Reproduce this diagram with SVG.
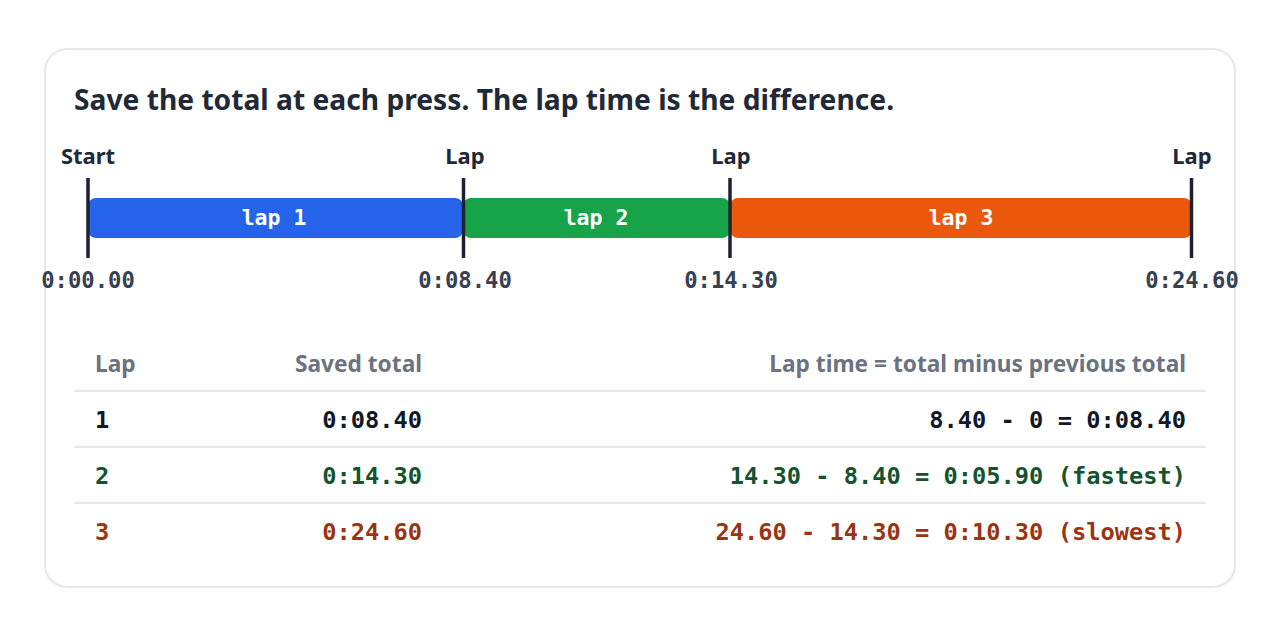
<svg xmlns="http://www.w3.org/2000/svg" width="1280" height="640" viewBox="0 0 1280 640">
<style>
.sans{font-family:"Noto Sans","Open Sans","Liberation Sans",sans-serif;font-weight:700}
.mono{font-family:"DejaVu Sans Mono","Liberation Mono",monospace;font-weight:700}
.title{font-size:28.2px;fill:#1f2937}
.tick-top{font-size:22px;fill:#1f2937;text-anchor:middle}
.tick-bot{font-size:22.2px;fill:#374151;text-anchor:middle}
.bar-label{font-size:21.5px;fill:#ffffff;text-anchor:middle}
.tick{stroke:#1e2130;stroke-width:3.5}
.hdr{font-size:22.7px;fill:#6b7280}
.cell{font-size:23.7px}
.rule{stroke:#e5e7eb;stroke-width:2}
.r1{fill:#111827}.r2{fill:#14532d}.r3{fill:#9a3412}
</style>
<rect x="0" y="0" width="1280" height="640" fill="#ffffff"/>
<rect id="card" x="45" y="49" width="1190" height="538" rx="22" fill="#ffffff" stroke="#e5e7eb" stroke-width="2"/>
<text id="title" class="sans title" x="74" y="110">Save the total at each press. The lap time is the difference.</text>

<g id="bar-lap1"><rect x="88" y="198" width="375" height="40" rx="8" fill="#2563eb"/><text class="mono bar-label" x="274" y="225">lap 1</text></g>
<g id="bar-lap2"><rect x="463" y="198" width="267" height="40" rx="8" fill="#16a34a"/><text class="mono bar-label" x="596" y="225">lap 2</text></g>
<g id="bar-lap3"><rect x="730" y="198" width="462" height="40" rx="8" fill="#ea580c"/><text class="mono bar-label" x="961" y="225">lap 3</text></g>

<g id="connectors">
<line class="tick" x1="88" y1="178" x2="88" y2="258"/>
<line class="tick" x1="463.5" y1="178" x2="463.5" y2="258"/>
<line class="tick" x1="730" y1="178" x2="730" y2="258"/>
<line class="tick" x1="1191.5" y1="178" x2="1191.5" y2="258"/>
</g>

<g id="tick-start"><text class="sans tick-top" x="88" y="164">Start</text><text class="mono tick-bot" x="88" y="288">0:00.00</text></g>
<g id="tick-lap1"><text class="sans tick-top" x="465" y="164">Lap</text><text class="mono tick-bot" x="465" y="288">0:08.40</text></g>
<g id="tick-lap2"><text class="sans tick-top" x="731" y="164">Lap</text><text class="mono tick-bot" x="731" y="288">0:14.30</text></g>
<g id="tick-lap3"><text class="sans tick-top" x="1192" y="164">Lap</text><text class="mono tick-bot" x="1192" y="288">0:24.60</text></g>

<g id="table">
<text class="sans hdr" x="95" y="372">Lap</text>
<text class="sans hdr" x="422" y="372" text-anchor="end">Saved total</text>
<text class="sans hdr" x="1186" y="372" text-anchor="end">Lap time = total minus previous total</text>
<line class="rule" x1="74" y1="391" x2="1206" y2="391"/>
<g id="row1"><text class="mono cell r1" x="95" y="428">1</text><text class="mono cell r1" x="422" y="428" text-anchor="end">0:08.40</text><text class="mono cell r1" x="1186" y="428" text-anchor="end">8.40 - 0 = 0:08.40</text></g>
<line class="rule" x1="74" y1="447" x2="1206" y2="447"/>
<g id="row2"><text class="mono cell r2" x="95" y="484">2</text><text class="mono cell r2" x="422" y="484" text-anchor="end">0:14.30</text><text class="mono cell r2" x="1186" y="484" text-anchor="end">14.30 - 8.40 = 0:05.90 (fastest)</text></g>
<line class="rule" x1="74" y1="503" x2="1206" y2="503"/>
<g id="row3"><text class="mono cell r3" x="95" y="540">3</text><text class="mono cell r3" x="422" y="540" text-anchor="end">0:24.60</text><text class="mono cell r3" x="1186" y="540" text-anchor="end">24.60 - 14.30 = 0:10.30 (slowest)</text></g>
</g>
</svg>
